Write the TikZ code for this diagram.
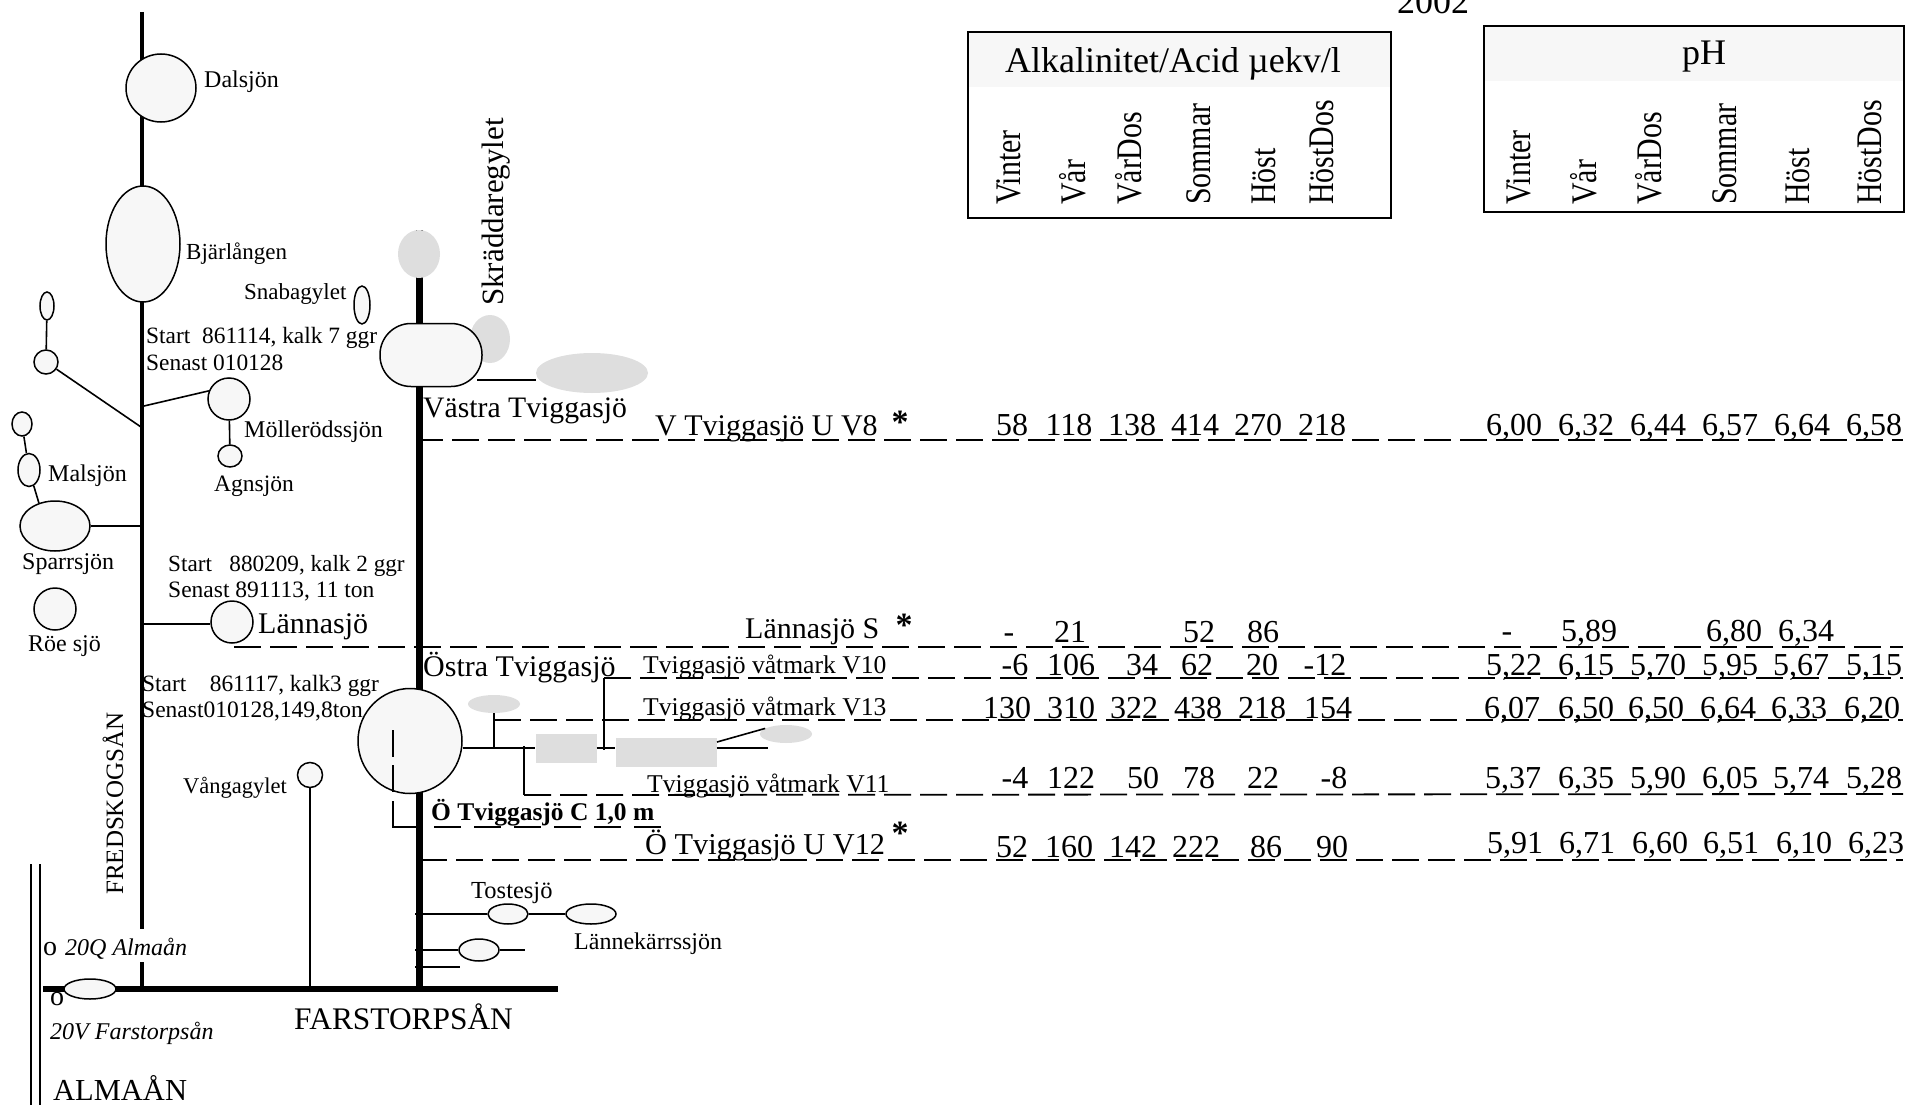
\documentclass[tikz,border=0pt]{standalone}
\usepackage{fontspec}
\setmainfont{Liberation Serif}
\usetikzlibrary{shapes,calc,positioning}
\definecolor{lakefill}{gray}{0.97}
\definecolor{wetgray}{gray}{0.87}
\newcommand{\fs}[1]{\fontsize{#1}{#1}\selectfont}
\newcommand{\coltext}[1]{\scalebox{0.83}[1]{#1}}
\tikzset{
    lake/.style={ellipse, draw, fill=lakefill, line width=1.5pt, inner sep=0pt},
    wetlake/.style={ellipse, fill=wetgray, inner sep=0pt},
    wetbox/.style={rectangle, fill=wetgray, inner sep=0pt},
    branch/.style={line width=1.6pt},
    sample/.style={line width=1.8pt, dash pattern=on 27pt off 9pt},
    txt/.style={anchor=base west, inner sep=0pt},
    val/.style={anchor=base, inner sep=0pt, font=\fs{32}},
    coltxt/.style={anchor=base west, inner sep=0pt, rotate=90, font=\fs{36}},
    star/.style={anchor=base, inner sep=0pt, font=\fs{34}\bfseries}
}
\begin{document}
\begin{tikzpicture}[x=1pt,y=-1pt]
    \useasboundingbox (0,0) rectangle (1908,1105);
    \coordinate (ftop) at (142,12);
    \coordinate (fgap1) at (142,929);
    \coordinate (fgap2) at (142,962);
    \coordinate (fmouth) at (142,989);
    \coordinate (ttop) at (419,270);
    \coordinate (tmouth) at (419,989);
    \coordinate (bleft) at (43,989);
    \coordinate (bright) at (558,989);
    \coordinate (vmouth) at (310,989);
    \node[txt, font=\fs{28}] (o2) at (50,1005) {o};
    \draw[line width=4.5pt] (ftop) -- (fgap1);
    \draw[line width=4.5pt] (fgap2) -- (fmouth);
    \draw[line width=7pt] (ttop) -- (tmouth);
    \draw[line width=6.5pt] (bleft) -- (bright);
    \draw[line width=1pt] (416,230) -- (423,230);
    \draw[line width=1.5pt] (31,864) -- (31,1105);
    \draw[line width=1.5pt] (40,864) -- (40,1105);

    \node[lake, minimum width=70pt, minimum height=68pt] (dal) at (161,88) {};
    \node[lake, minimum width=74pt, minimum height=116pt] (bjar) at (143,244) {};
    \node[lake, minimum width=14pt, minimum height=28pt] (n1) at (47,306) {};
    \node[lake, minimum width=24pt, minimum height=24pt] (n2) at (46,362) {};
    \node[lake, minimum width=16pt, minimum height=38pt] (snaba) at (362,305) {};
    \node[lake, minimum width=42pt, minimum height=42pt] (moller) at (229,399) {};
    \node[lake, minimum width=24pt, minimum height=22pt] (agn) at (230,456) {};
    \node[lake, minimum width=20pt, minimum height=24pt] (m1) at (22,424) {};
    \node[lake, minimum width=22pt, minimum height=33pt] (mal) at (29,470) {};
    \node[lake, minimum width=70pt, minimum height=50pt] (sparr) at (55,526) {};
    \node[lake, minimum width=42pt, minimum height=42pt] (roe) at (55,609) {};
    \node[lake, minimum width=42pt, minimum height=42pt] (lanna) at (232,622) {};
    \node[lake, minimum width=25pt, minimum height=25pt] (vanga) at (310,775) {};
    \node[lake, minimum width=40pt, minimum height=20pt] (toste) at (508,914) {};
    \node[lake, minimum width=50pt, minimum height=20pt] (lanne) at (591,914) {};
    \node[lake, minimum width=40pt, minimum height=22pt] (s1) at (479,950) {};
    \node[lake, minimum width=52pt, minimum height=20pt] (far) at (90,989) {};

    \node[wetlake, minimum width=42pt, minimum height=48pt] (g1) at (419,254) {};
    \node[wetlake, minimum width=40pt, minimum height=48pt] (skr) at (490,339) {};
    \node[wetlake, minimum width=112pt, minimum height=40pt] (g2) at (592,373) {};
    \node[wetlake, minimum width=52pt, minimum height=18pt] (g3) at (494,704) {};
    \node[wetlake, minimum width=52pt, minimum height=18pt] (g4) at (786,734) {};
    \node[wetbox, minimum width=61pt, minimum height=29pt] (w1) at (566,748) {};
    \node[wetbox, minimum width=101pt, minimum height=29pt] (w2) at (666,752) {};

    \node[draw, fill=lakefill, line width=1.5pt, rounded corners=31pt, inner sep=0pt, minimum width=102pt, minimum height=63pt] (vastra) at (431,355) {};
    \coordinate (g2a) at (477,380);
    \draw[branch] (g2a) -- (g2a -| g2.west);

    \coordinate (j1) at (141,427);
    \coordinate (j2) at (144,406);
    \coordinate (j3) at (141,526);
    \coordinate (j4) at (144,624);
    \draw[branch] (n1) -- (n2);
    \draw[branch] (n2) -- (j1);
    \draw[branch] (moller.158) -- (j2);
    \draw[branch] (moller) -- (agn);
    \draw[branch] (m1) -- (mal);
    \draw[branch] (mal) -- (sparr.125);
    \draw[branch] (sparr) -- (j3);
    \draw[branch] (j4 -| lanna.west) -- (j4);
    \draw[branch] (vanga) -- (vmouth);

    \coordinate (t1) at (415,914);
    \coordinate (t2) at (415,950);
    \coordinate (t3) at (525,950);
    \coordinate (t4) at (415,967);
    \coordinate (t5) at (460,967);
    \draw[branch] (t1) -- (toste);
    \draw[branch] (toste) -- (lanne);
    \draw[branch] (t2) -- (s1);
    \draw[branch] (s1) -- (t3);
    \draw[branch] (t4) -- (t5);

    \node[lake, minimum width=104pt, minimum height=105pt] (ost) at (410,741) {};
    \coordinate (h1) at (768,748);
    \coordinate (h2) at (494,748);
    \coordinate (h3) at (524,746);
    \coordinate (h4) at (604,750);
    \coordinate (h5) at (717,742);
    \coordinate (d10) at (604,678);
    \coordinate (d13) at (494,720);
    \coordinate (d11) at (524,795);
    \draw[branch] (ost.east |- h1) -- (w1.west |- h1);
    \draw[branch] (w1.east |- h1) -- (w2.west |- h1);
    \draw[branch] (w2.east |- h1) -- (h1);
    \draw[branch] (h5) -- (g4.165);
    \draw[branch] (g3) ++(0,9) -- (h2);
    \draw[line width=2.2pt] (h3) -- (d11);
    \draw[branch] (d10) -- (h4);

    \draw[sample] (416,440) -- (1903,440);
    \draw[sample] (234,647) -- (1903,647);
    \draw[sample] (d10) -- (1903,678);
    \draw[sample] (d13) -- (1903,720);
    \draw[sample] (d11) -- (1903,794);
    \draw[sample] (420,860) -- (1903,860);
    \draw[line width=1.8pt, dash pattern=on 27pt off 8pt] (393,730) -- (393,795);
    \draw[line width=1.8pt] (393,801) -- (393,827) -- (419,827);
    \draw[line width=1.8pt, dash pattern=on 27pt off 13pt] (434,827) -- (663,827);

    \node[txt, font=\fs{24}] (dallbl) at (204,88) {Dalsjön};
    \node[txt, font=\fs{23}] (bjarlbl) at (186,259) {Bjärlången};
    \node[txt, font=\fs{23}] (snabalbl) at (244,299) {Snabagylet};
    \node[txt, font=\fs{23.4}] (st1) at (146,343) {Start\ \ 861114, kalk 7 ggr};
    \node[txt, font=\fs{23.4}] (se1) at (146,370) {Senast 010128};
    \node[txt, font=\fs{24}] (mollbl) at (244,437) {Möllerödssjön};
    \node[txt, font=\fs{23.5}] (agnlbl) at (214,491) {Agnsjön};
    \node[txt, font=\fs{24}] (mallbl) at (48,481) {Malsjön};
    \node[txt, font=\fs{24}] (sparrlbl) at (22,569) {Sparrsjön};
    \node[txt, font=\fs{24}] (roelbl) at (28,651) {Röe sjö};
    \node[txt, font=\fs{23.2}] (st2) at (168,571) {Start\ \ \ 880209, kalk 2 ggr};
    \node[txt, font=\fs{23.5}] (se2) at (168,597) {Senast 891113, 11 ton};
    \node[txt, font=\fs{23.4}] (st3) at (142,691) {Start\ \ \ \ 861117, kalk3 ggr};
    \node[txt, font=\fs{23.5}] (se3) at (142,717) {Senast010128,149,8ton};
    \node[txt, font=\fs{22.5}] (vangalbl) at (183,793) {Vångagylet};
    \node[txt, font=\fs{30}] (lannalbl) at (258,633) {Lännasjö};
    \node[txt, font=\fs{29.7}] (vastralbl) at (423,417) {Västra Tviggasjö};
    \node[txt, font=\fs{30}] (ostlbl) at (423,676) {Östra Tviggasjö};
    \node[txt, font=\fs{31}, rotate=90] (skrlbl) at (503,306) {Skräddaregylet};
    \node[txt, font=\fs{25}, rotate=90] (fred) at (123,895) {FREDSKOGSÅN};
    \node[txt, font=\fs{28}] (o1) at (43,955) {o};
    \node[txt, font=\fs{24}\itshape] (almaq) at (65,955) {20Q Almaån};
    \node[txt, font=\fs{24}\itshape] (farv) at (50,1039) {20V Farstorpsån};
    \node[txt, font=\fs{31.4}] (farlbl) at (294,1029) {FARSTORPSÅN};
    \node[txt, font=\fs{30.5}] (almalbl) at (53,1100) {ALMAÅN};
    \node[txt, font=\fs{24.5}] (tostelbl) at (471,898) {Tostesjö};
    \node[txt, font=\fs{24}] (lannelbl) at (574,949) {Lännekärrssjön};

    \node[txt, font=\fs{25.5}\bfseries] (oc) at (431,820) {Ö Tviggasjö C 1,0 m};
    \node[txt, font=\fs{30}] (v8) at (655,435) {V Tviggasjö U V8};
    \node[star] (s8) at (900,433) {*};
    \node[txt, font=\fs{30}] (ls) at (745,638) {Lännasjö S};
    \node[star] (sl) at (904,636) {*};
    \node[txt, font=\fs{25.6}] (v10) at (643,673) {Tviggasjö våtmark V10};
    \node[txt, font=\fs{25.6}] (v13) at (643,715) {Tviggasjö våtmark V13};
    \node[txt, font=\fs{25.6}] (v11) at (647,792) {Tviggasjö våtmark V11};
    \node[txt, font=\fs{30.3}] (v12) at (645,854) {Ö Tviggasjö U V12};
    \node[star] (s12) at (900,844) {*};

    \foreach \x/\t [count=\i] in {1012/58,1069/118,1132/138,1195/414,1258/270,1322/218,1514/{6,00},1586/{6,32},1658/{6,44},1730/{6,57},1802/{6,64},1874/{6,58}}
        \node[val] (a\i) at (\x,435) {\t};
    \foreach \x/\t [count=\i] in {1009/-,1070/21,1199/52,1263/86}
        \node[val] (b\i) at (\x,642) {\t};
    \foreach \x/\t [count=\i] in {1507/-,1589/{5,89},1734/{6,80},1806/{6,34}}
        \node[val] (bp\i) at (\x,641) {\t};
    \foreach \x/\t [count=\i] in {1015/-6,1071/106,1142/34,1197/62,1262/20,1325/-12,1514/{5,22},1586/{6,15},1658/{5,70},1730/{5,95},1801/{5,67},1874/{5,15}}
        \node[val] (c\i) at (\x,675) {\t};
    \foreach \x/\t [count=\i] in {1007/130,1071/310,1134/322,1198/438,1262/218,1328/154,1512/{6,07},1586/{6,50},1656/{6,50},1728/{6,64},1799/{6,33},1872/{6,20}}
        \node[val] (d\i) at (\x,718) {\t};
    \foreach \x/\t [count=\i] in {1015/-4,1071/122,1143/50,1199/78,1263/22,1334/-8,1513/{5,37},1586/{6,35},1658/{5,90},1730/{6,05},1801/{5,74},1874/{5,28}}
        \node[val] (e\i) at (\x,788) {\t};
    \foreach \x/\t [count=\i] in {1012/52,1069/160,1133/142,1196/222,1266/86,1332/90}
        \node[val] (f\i) at (\x,857) {\t};
    \foreach \x/\t [count=\i] in {1515/{5,91},1587/{6,71},1660/{6,60},1731/{6,51},1804/{6,10},1876/{6,23}}
        \node[val] (fp\i) at (\x,853) {\t};

    \fill[lakefill] (968,32) rectangle (1391,87);
    \draw[line width=1.8pt] (968,32) rectangle (1391,218);
    \fill[lakefill] (1484,26) rectangle (1904,81);
    \draw[line width=1.8pt] (1484,26) rectangle (1904,212);
    \node[val, font=\fs{36}] (year) at (1433,14) {2002};
    \node[val, font=\fs{36}] (alk) at (1173,73) {Alkalinitet/Acid µekv/l};
    \node[val, font=\fs{36}] (ph) at (1704,65) {pH};
    \foreach \x/\t [count=\i] in {1020/Vinter,1085/Vår,1141/VårDos,1210/Sommar,1275/Höst,1333/HöstDos}
        \node[coltxt] (alkc\i) at (\x,205) {\coltext{\t}};
    \foreach \x/\t [count=\i] in {1530/Vinter,1596/Vår,1661/VårDos,1736/Sommar,1809/Höst,1881/HöstDos}
        \node[coltxt] (phc\i) at (\x,205) {\coltext{\t}};
\end{tikzpicture}
\end{document}
